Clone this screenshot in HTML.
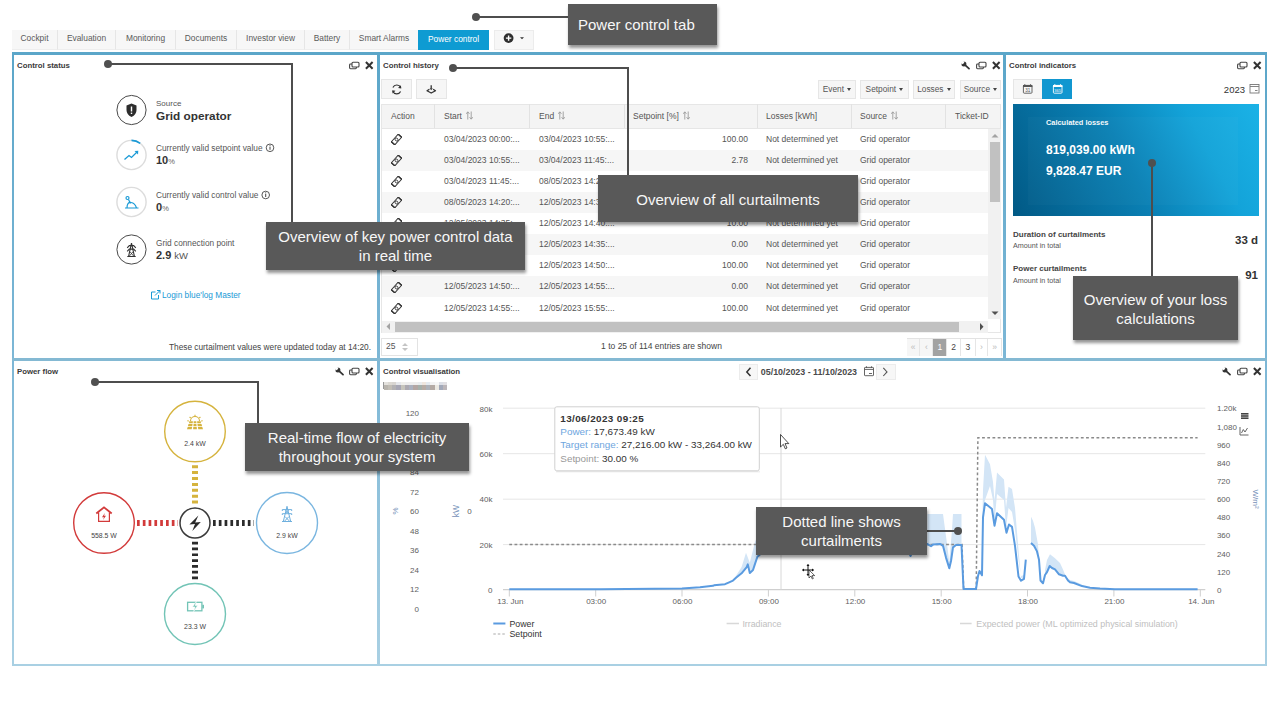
<!DOCTYPE html>
<html><head><meta charset="utf-8">
<style>
*{box-sizing:border-box;margin:0;padding:0}
html,body{width:1280px;height:720px;overflow:hidden;background:#fff}
body{position:relative;font-family:"Liberation Sans",sans-serif;color:#444;font-size:8.4px}
.a{position:absolute}
.tab{position:absolute;top:30px;height:20px;background:#f7f7f7;border-right:1px solid #e6e6e6;border-bottom:1.5px solid #eeeeee;color:#5a5a5a;font-size:8.4px;line-height:17px;text-align:center}
.vb{position:absolute;background:#79b4d2}
.ttl{position:absolute;font-weight:bold;font-size:7.8px;color:#3a3a3a;line-height:10px;margin-top:1px}
.ann{position:absolute;background:#595959;color:#f7f7f7;font-size:15px;line-height:19px;text-align:center;box-shadow:1px 3px 3px rgba(0,0,0,.42)}
.ln{position:absolute;background:#4d4d4d}
.dot{position:absolute;width:8px;height:8px;border-radius:50%;background:#505050}
.btn{background:#f6f6f6;border:1px solid #e6e6e6}
.dd{color:#555;font-size:8.3px;line-height:17px;text-align:center}
.car{display:inline-block;width:0;height:0;border-left:2.5px solid transparent;border-right:2.5px solid transparent;border-top:3px solid #444;vertical-align:middle;margin-left:1px;margin-top:-1px}
.th{font-size:8.5px;color:#555;line-height:10px;white-space:nowrap}
.srt{margin-left:4px;vertical-align:-1px}
.td{font-size:8.5px;color:#555;line-height:10px;white-space:nowrap}
</style></head><body>


<svg width="0" height="0" style="position:absolute">
 <defs>
  <g id="ix"><path d="M0.9 1 L7.6 7.7 M7.6 1 L0.9 7.7" stroke="#333" stroke-width="2" fill="none"/></g>
  <g id="ir"><rect x="3" y="0.7" width="7" height="4.8" rx="1" fill="#fff" stroke="#444" stroke-width="1.1"/><path d="M3 2.5 L1.5 2.5 Q0.6 2.5 0.6 3.4 L0.6 6.3 Q0.6 7.2 1.5 7.2 L6.5 7.2 Q7.4 7.2 7.4 6.3 L7.4 5.5" fill="none" stroke="#444" stroke-width="1.1"/></g>
  <g id="iw"><path d="M3.4 3.4 L8 7.6" stroke="#333" stroke-width="1.8" stroke-linecap="round" fill="none"/><circle cx="2.9" cy="2.9" r="2.5" fill="#333"/><path d="M-0.3 -0.3 L3.6 0.6 L2.6 2.6 L0.6 3.6 Z" fill="#fff"/></g>
  <g id="iact"><g transform="rotate(-48 5.5 5.5)"><rect x="0.3" y="3.2" width="10.4" height="4.6" fill="none" stroke="#333" stroke-width="1"/><rect x="-0.2" y="2.8" width="1.3" height="5.4" fill="#333"/><rect x="9.9" y="2.8" width="1.3" height="5.4" fill="#333"/><circle cx="5.5" cy="5.5" r="1.4" fill="none" stroke="#333" stroke-width="0.9"/></g></g>
 </defs>
</svg>

<!-- tabs -->
<div class="tab" style="left:12px;width:46px">Cockpit</div>
<div class="tab" style="left:58px;width:58px">Evaluation</div>
<div class="tab" style="left:116px;width:60px">Monitoring</div>
<div class="tab" style="left:176px;width:61px">Documents</div>
<div class="tab" style="left:237px;width:68px">Investor view</div>
<div class="tab" style="left:305px;width:45px">Battery</div>
<div class="tab" style="left:350px;width:68px;border-right:none">Smart Alarms</div>
<div class="tab" style="left:418px;width:71px;height:19.5px;background:#0e9bd2;color:#fff;border:none;line-height:18px">Power control</div>
<div class="tab" style="left:494px;width:40px;height:19.5px;border:1px solid #ececec"></div>
<svg class="a" style="left:500px;top:30px" width="30" height="18"><circle cx="8.6" cy="8.1" r="4.9" fill="#2e2e2e"/><path d="M8.6 5.4V10.8M5.9 8.1H11.3" stroke="#fff" stroke-width="1.4"/><path d="M20 7.2H24L22 9.3Z" fill="#333"/></svg>

<!-- frame -->
<div class="vb" style="left:12px;top:52px;width:1255px;height:3px;background:#5ba6c9"></div>
<div class="vb" style="left:12px;top:52px;width:2px;height:614px;background:linear-gradient(#5ba6c9,#7db7d6 50%,#a9d0e3)"></div>
<div class="vb" style="left:1265px;top:52px;width:2px;height:614px;background:linear-gradient(#5ba6c9,#7db7d6 50%,#a9d0e3)"></div>
<div class="vb" style="left:12px;top:663.5px;width:1255px;height:2.5px;background:#a9d0e3"></div>
<div class="vb" style="left:377px;top:52px;width:3px;height:614px;background:linear-gradient(#5ba6c9,#7db7d6 50%,#a9d0e3)"></div>
<div class="vb" style="left:1003px;top:52px;width:3px;height:308px;background:linear-gradient(#5ba6c9,#7db7d6)"></div>
<div class="vb" style="left:12px;top:358px;width:1255px;height:3px;background:#84b9d3"></div>
<!-- titles -->
<div class="ttl" style="left:17px;top:60px">Control status</div>
<div class="ttl" style="left:383px;top:60px">Control history</div>
<div class="ttl" style="left:1009px;top:60px">Control indicators</div>
<div class="ttl" style="left:17px;top:366px">Power flow</div>
<div class="ttl" style="left:383px;top:366px">Control visualisation</div>


<!-- control status content -->
<svg class="a" style="left:0;top:0" width="380" height="360">
 <g fill="none" stroke-width="1.1">
  <circle cx="131.5" cy="110" r="14.6" stroke="#4a4a4a" stroke-width="1"/>
  <circle cx="131.5" cy="155" r="14.6" stroke="#dcdcdc" stroke-width="1.4"/>
  <path d="M131.5 140.4 A14.6 14.6 0 0 1 140.2 143.3" stroke="#1a9ad6" stroke-width="1.6"/>
  <circle cx="131.5" cy="202" r="14.6" stroke="#dcdcdc" stroke-width="1.4"/>
  <circle cx="131.5" cy="249.5" r="14.6" stroke="#4a4a4a" stroke-width="1"/>
 </g>
 <!-- shield -->
 <path d="M131.5 103.5 L136.5 105.5 L136.5 110 Q136.5 114.5 131.5 117 Q126.5 114.5 126.5 110 L126.5 105.5 Z" fill="#2d2d2d"/>
 <rect x="130.8" y="106.5" width="1.4" height="5" fill="#fff"/>
 <rect x="130.8" y="112.6" width="1.4" height="1.4" fill="#fff"/>
 <!-- trend -->
 <path d="M124.5 159.5 L129 155.5 L131.5 157.5 L137.5 151.5" fill="none" stroke="#1a9ad6" stroke-width="1.3"/>
 <path d="M134.5 151 L138.3 150.7 L138 154.5 Z" fill="#1a9ad6"/>
 <!-- control lever -->
 <g fill="none" stroke="#1a9ad6" stroke-width="1.2">
  <circle cx="127.5" cy="198" r="1.5"/>
  <path d="M128.5 199.5 L130.5 203.5 M125 208 L138.5 208 M127 208 Q127 202 131 202.5 Q135 203 136.5 208"/>
 </g>
 <!-- tower -->
 <g fill="none" stroke="#333" stroke-width="1.1">
  <path d="M131.5 243.2 L128.6 256.3 M131.5 243.2 L134.4 256.3 M127.3 256.5 H135.7"/>
  <path d="M127.2 247.8 L129.3 245.6 H133.7 L135.8 247.8 M127.2 251.3 L129.3 249.1 H133.7 L135.8 251.3"/>
  <path d="M130 251.8 L133.6 256 M133 251.8 L129.4 256" stroke-width="0.8"/>
 </g>
 <!-- info icons -->
 <g fill="none" stroke="#444" stroke-width="0.9"><circle cx="270" cy="147.8" r="3.8"/><circle cx="265.7" cy="195" r="3.8"/></g>
 <g fill="#444"><rect x="269.5" y="146.8" width="1" height="3"/><rect x="269.5" y="145.2" width="1" height="1"/><rect x="265.2" y="194" width="1" height="3"/><rect x="265.2" y="192.4" width="1" height="1"/></g>
 <!-- external link icon -->
 <g fill="none" stroke="#1a9ad6" stroke-width="1"><path d="M155.5 292 L151.5 292 L151.5 299 L158.5 299 L158.5 295"/><path d="M155 295.5 L160 290.5 M157 290.5 L160 290.5 L160 293.5"/></g>
</svg>
<div class="a" style="left:156px;top:99px;font-size:8px;color:#555;line-height:10px">Source</div>
<div class="a" style="left:156px;top:108.5px;font-size:11.8px;font-weight:bold;color:#333;line-height:14px">Grid operator</div>
<div class="a" style="left:156px;top:142.8px;font-size:8.3px;color:#555;line-height:10px">Currently valid setpoint value</div>
<div class="a" style="left:156px;top:154px;font-size:11px;font-weight:bold;color:#333;line-height:13px">10<span style="font-size:7.5px;font-weight:normal;color:#666">%</span></div>
<div class="a" style="left:156px;top:190.3px;font-size:8.3px;color:#555;line-height:10px">Currently valid control value</div>
<div class="a" style="left:156px;top:201.3px;font-size:11px;font-weight:bold;color:#333;line-height:13px">0<span style="font-size:7.5px;font-weight:normal;color:#666">%</span></div>
<div class="a" style="left:156px;top:237.5px;font-size:8.3px;color:#555;line-height:10px">Grid connection point</div>
<div class="a" style="left:156px;top:248.8px;font-size:11px;font-weight:bold;color:#333;line-height:13px">2.9 <span style="font-size:9.5px;font-weight:normal;color:#555">kW</span></div>
<div class="a" style="left:162px;top:289.5px;font-size:8.3px;color:#1a9ad6;line-height:10px">Login blue'log Master</div>
<div class="a" style="left:140px;top:342px;width:231px;text-align:right;font-size:8.3px;color:#444;line-height:10px">These curtailment values were updated today at 14:20.</div>


<!-- control history -->
<div class="a btn" style="left:381px;top:79px;width:31px;height:20px"></div>
<div class="a btn" style="left:416px;top:79px;width:31px;height:20px"></div>
<svg class="a" style="left:385px;top:80px" width="60" height="19">
 <g fill="none" stroke="#333" stroke-width="1.2"><path d="M15.7 7.6 A4.3 4.3 0 0 0 7.9 7.4"/><path d="M7.8 11.2 A4.3 4.3 0 0 0 15.6 11.4"/></g>
 <path d="M15.9 5.2 L16.3 8.6 L13 8 Z M7.6 13.6 L7.2 10.2 L10.5 10.8 Z" fill="#333"/>
 <path d="M44.4 9.2 L42 10.7 L46.2 13 L50.5 10.7 L48.1 9.2" fill="none" stroke="#333" stroke-width="1.3" stroke-linejoin="round"/>
 <path d="M46.2 5.2 V8.6" stroke="#333" stroke-width="1.3"/><path d="M44.6 8.2 L46.2 10.3 L47.8 8.2 Z" fill="#333"/>
</svg>
<div class="a btn dd" style="left:818px;top:80px;width:38px;height:19px">Event <span class="car"></span></div>
<div class="a btn dd" style="left:860px;top:80px;width:49px;height:19px">Setpoint <span class="car"></span></div>
<div class="a btn dd" style="left:913px;top:80px;width:42px;height:19px">Losses <span class="car"></span></div>
<div class="a btn dd" style="left:960px;top:80px;width:41px;height:19px">Source <span class="car"></span></div>
<div class="a" style="left:381px;top:104px;width:620px;height:229px;border:1px solid #e6e6e6;background:#fff"></div>
<div class="a" style="left:381px;top:104px;width:620px;height:24.5px;background:#f4f4f4;border:1px solid #e6e6e6"></div>
<div class="a" style="left:434px;top:104px;width:1px;height:24px;background:#e2e2e2"></div>
<div class="a" style="left:529px;top:104px;width:1px;height:24px;background:#e2e2e2"></div>
<div class="a" style="left:624px;top:104px;width:1px;height:24px;background:#e2e2e2"></div>
<div class="a" style="left:757px;top:104px;width:1px;height:24px;background:#e2e2e2"></div>
<div class="a" style="left:851px;top:104px;width:1px;height:24px;background:#e2e2e2"></div>
<div class="a" style="left:945px;top:104px;width:1px;height:24px;background:#e2e2e2"></div>
<div class="a th" style="left:391px;top:111px">Action</div>
<div class="a th" style="left:444px;top:111px">Start<svg class="srt" width="7" height="9" viewBox="0 0 7 9"><path d="M1.8 8.5V1 M0.2 2.8 L1.8 0.8 L3.4 2.8 M5.2 0.5V8 M3.6 6.2 L5.2 8.2 L6.8 6.2" fill="none" stroke="#9a9a9a" stroke-width="0.9"/></svg></div>
<div class="a th" style="left:539px;top:111px">End<svg class="srt" width="7" height="9" viewBox="0 0 7 9"><path d="M1.8 8.5V1 M0.2 2.8 L1.8 0.8 L3.4 2.8 M5.2 0.5V8 M3.6 6.2 L5.2 8.2 L6.8 6.2" fill="none" stroke="#9a9a9a" stroke-width="0.9"/></svg></div>
<div class="a th" style="left:633px;top:111px">Setpoint [%]<svg class="srt" width="7" height="9" viewBox="0 0 7 9"><path d="M1.8 8.5V1 M0.2 2.8 L1.8 0.8 L3.4 2.8 M5.2 0.5V8 M3.6 6.2 L5.2 8.2 L6.8 6.2" fill="none" stroke="#9a9a9a" stroke-width="0.9"/></svg></div>
<div class="a th" style="left:766px;top:111px">Losses [kWh]</div>
<div class="a th" style="left:860px;top:111px">Source<svg class="srt" width="7" height="9" viewBox="0 0 7 9"><path d="M1.8 8.5V1 M0.2 2.8 L1.8 0.8 L3.4 2.8 M5.2 0.5V8 M3.6 6.2 L5.2 8.2 L6.8 6.2" fill="none" stroke="#9a9a9a" stroke-width="0.9"/></svg></div>
<div class="a th" style="left:955px;top:111px">Ticket-ID</div>
<div class="a" style="left:382px;top:128.5px;width:606px;height:21.1px;background:#fff"></div>
<svg class="a" style="left:391px;top:134.0px" width="11" height="11"><use href="#iact"/></svg>
<div class="a td" style="left:444px;top:133.7px">03/04/2023 00:00:...</div>
<div class="a td" style="left:539px;top:133.7px">03/04/2023 10:55:...</div>
<div class="a td" style="left:640px;top:133.7px;width:108px;text-align:right">100.00</div>
<div class="a td" style="left:766px;top:133.7px">Not determined yet</div>
<div class="a td" style="left:860px;top:133.7px">Grid operator</div>
<div class="a" style="left:382px;top:149.6px;width:606px;height:21.1px;background:#f6f6f6"></div>
<svg class="a" style="left:391px;top:155.1px" width="11" height="11"><use href="#iact"/></svg>
<div class="a td" style="left:444px;top:154.8px">03/04/2023 10:55:...</div>
<div class="a td" style="left:539px;top:154.8px">03/04/2023 11:45:...</div>
<div class="a td" style="left:640px;top:154.8px;width:108px;text-align:right">2.78</div>
<div class="a td" style="left:766px;top:154.8px">Not determined yet</div>
<div class="a td" style="left:860px;top:154.8px">Grid operator</div>
<div class="a" style="left:382px;top:170.7px;width:606px;height:21.1px;background:#fff"></div>
<svg class="a" style="left:391px;top:176.2px" width="11" height="11"><use href="#iact"/></svg>
<div class="a td" style="left:444px;top:175.9px">03/04/2023 11:45:...</div>
<div class="a td" style="left:539px;top:175.9px">08/05/2023 14:20:...</div>
<div class="a td" style="left:640px;top:175.9px;width:108px;text-align:right">0.00</div>
<div class="a td" style="left:766px;top:175.9px">Not determined yet</div>
<div class="a td" style="left:860px;top:175.9px">Grid operator</div>
<div class="a" style="left:382px;top:191.8px;width:606px;height:21.1px;background:#f6f6f6"></div>
<svg class="a" style="left:391px;top:197.3px" width="11" height="11"><use href="#iact"/></svg>
<div class="a td" style="left:444px;top:197.0px">08/05/2023 14:20:...</div>
<div class="a td" style="left:539px;top:197.0px">12/05/2023 14:35:...</div>
<div class="a td" style="left:640px;top:197.0px;width:108px;text-align:right">10.00</div>
<div class="a td" style="left:766px;top:197.0px">Not determined yet</div>
<div class="a td" style="left:860px;top:197.0px">Grid operator</div>
<div class="a" style="left:382px;top:212.9px;width:606px;height:21.1px;background:#fff"></div>
<svg class="a" style="left:391px;top:218.4px" width="11" height="11"><use href="#iact"/></svg>
<div class="a td" style="left:444px;top:218.1px">12/05/2023 14:35:...</div>
<div class="a td" style="left:539px;top:218.1px">12/05/2023 14:40:...</div>
<div class="a td" style="left:640px;top:218.1px;width:108px;text-align:right">10.00</div>
<div class="a td" style="left:766px;top:218.1px">Not determined yet</div>
<div class="a td" style="left:860px;top:218.1px">Grid operator</div>
<div class="a" style="left:382px;top:234.0px;width:606px;height:21.1px;background:#f6f6f6"></div>
<svg class="a" style="left:391px;top:239.5px" width="11" height="11"><use href="#iact"/></svg>
<div class="a td" style="left:444px;top:239.2px">12/05/2023 14:40:...</div>
<div class="a td" style="left:539px;top:239.2px">12/05/2023 14:35:...</div>
<div class="a td" style="left:640px;top:239.2px;width:108px;text-align:right">0.00</div>
<div class="a td" style="left:766px;top:239.2px">Not determined yet</div>
<div class="a td" style="left:860px;top:239.2px">Grid operator</div>
<div class="a" style="left:382px;top:255.1px;width:606px;height:21.1px;background:#fff"></div>
<svg class="a" style="left:391px;top:260.6px" width="11" height="11"><use href="#iact"/></svg>
<div class="a td" style="left:444px;top:260.3px">12/05/2023 14:35:...</div>
<div class="a td" style="left:539px;top:260.3px">12/05/2023 14:50:...</div>
<div class="a td" style="left:640px;top:260.3px;width:108px;text-align:right">100.00</div>
<div class="a td" style="left:766px;top:260.3px">Not determined yet</div>
<div class="a td" style="left:860px;top:260.3px">Grid operator</div>
<div class="a" style="left:382px;top:276.2px;width:606px;height:21.1px;background:#f6f6f6"></div>
<svg class="a" style="left:391px;top:281.7px" width="11" height="11"><use href="#iact"/></svg>
<div class="a td" style="left:444px;top:281.4px">12/05/2023 14:50:...</div>
<div class="a td" style="left:539px;top:281.4px">12/05/2023 14:55:...</div>
<div class="a td" style="left:640px;top:281.4px;width:108px;text-align:right">0.00</div>
<div class="a td" style="left:766px;top:281.4px">Not determined yet</div>
<div class="a td" style="left:860px;top:281.4px">Grid operator</div>
<div class="a" style="left:382px;top:297.3px;width:606px;height:21.1px;background:#fff"></div>
<svg class="a" style="left:391px;top:302.8px" width="11" height="11"><use href="#iact"/></svg>
<div class="a td" style="left:444px;top:302.5px">12/05/2023 14:55:...</div>
<div class="a td" style="left:539px;top:302.5px">12/05/2023 15:55:...</div>
<div class="a td" style="left:640px;top:302.5px;width:108px;text-align:right">100.00</div>
<div class="a td" style="left:766px;top:302.5px">Not determined yet</div>
<div class="a td" style="left:860px;top:302.5px">Grid operator</div>
<div class="a" style="left:988px;top:128.5px;width:13px;height:190px;background:#f1f1f1"></div>
<div class="a" style="left:990px;top:142px;width:10px;height:60px;background:#c1c1c1"></div>
<div class="a" style="left:382px;top:320.5px;width:606px;height:12.5px;background:#f1f1f1"></div>
<div class="a" style="left:395px;top:322px;width:564px;height:9.5px;background:#c1c1c1"></div>
<svg class="a" style="left:380px;top:126px" width="625" height="210">
 <path d="M611.5 11.5 L615 8 L618.5 11.5 Z" fill="#a3a3a3"/>
 <path d="M611.5 185.5 L615 189 L618.5 185.5 Z" fill="#505050"/>
 <path d="M10 204 L6.5 200.5 L10 197 Z" fill="#a3a3a3"/>
 <path d="M600 197 L603.5 200.7 L600 204.4 Z" fill="#505050"/>
</svg>
<div class="a" style="left:381px;top:338px;width:37px;height:18px;border:1px solid #e3e3e3;background:#fff"></div>
<div class="a td" style="left:386px;top:341.2px;color:#555">25</div>
<svg class="a" style="left:401px;top:341px" width="8" height="12"><path d="M1 5 L4 2 L7 5 Z M1 7 L4 10 L7 7 Z" fill="#c4c4c4"/></svg>
<div class="a td" style="left:561.5px;top:341.2px;width:200px;text-align:center;color:#444">1 to 25 of 114 entries are shown</div>
<div class="a" style="left:907px;top:338px;width:95px;height:18px;border:1px solid #e3e3e3"></div>
<div class="a" style="left:907.0px;top:338.5px;width:13.3px;height:17px;background:#f6f6f6;color:#bbb;border-right:1px solid #e6e6e6;text-align:center;font-size:8.5px;line-height:17px">&laquo;</div>
<div class="a" style="left:920.3px;top:338.5px;width:13.0px;height:17px;background:#f6f6f6;color:#bbb;border-right:1px solid #e6e6e6;text-align:center;font-size:8.5px;line-height:17px">&lsaquo;</div>
<div class="a" style="left:933.3px;top:338.5px;width:13.9px;height:17px;background:#a2a2a2;color:#fff;border-right:1px solid #e6e6e6;text-align:center;font-size:8.5px;line-height:17px">1</div>
<div class="a" style="left:947.2px;top:338.5px;width:13.9px;height:17px;background:#fff;color:#444;border-right:1px solid #e6e6e6;text-align:center;font-size:8.5px;line-height:17px">2</div>
<div class="a" style="left:961.1px;top:338.5px;width:14.5px;height:17px;background:#fff;color:#444;border-right:1px solid #e6e6e6;text-align:center;font-size:8.5px;line-height:17px">3</div>
<div class="a" style="left:975.6px;top:338.5px;width:12.7px;height:17px;background:#fff;color:#bbb;border-right:1px solid #e6e6e6;text-align:center;font-size:8.5px;line-height:17px">&rsaquo;</div>
<div class="a" style="left:988.3px;top:338.5px;width:13.4px;height:17px;background:#fff;color:#bbb;border-right:1px solid #e6e6e6;text-align:center;font-size:8.5px;line-height:17px">&raquo;</div>
<!-- control indicators -->
<div class="a btn" style="left:1013px;top:79px;width:30px;height:20px"></div>
<div class="a" style="left:1042px;top:79px;width:30px;height:20px;background:#1197d0"></div>
<svg class="a" style="left:1020px;top:82px" width="50" height="14">
 <rect x="3.4" y="3.4" width="8.6" height="7.8" rx="0.8" fill="none" stroke="#555" stroke-width="0.9"/><rect x="3" y="3" width="9.4" height="2" fill="#555"/><path d="M4.8 2.2V3.4M10.6 2.2V3.4" stroke="#555" stroke-width="1"/>
 <text x="7.7" y="10.1" font-size="4.6" fill="#555" text-anchor="middle" font-family="Liberation Sans">31</text>
 <rect x="33.4" y="3.4" width="8.6" height="7.8" rx="0.8" fill="none" stroke="#fff" stroke-width="0.9"/><rect x="33" y="3" width="9.4" height="2" fill="#fff"/><path d="M34.8 2.2V3.4M40.6 2.2V3.4" stroke="#fff" stroke-width="1"/>
 <text x="37.7" y="9.9" font-size="4" fill="#fff" text-anchor="middle" font-family="Liberation Sans">365</text>
</svg>
<div class="a" style="left:1197px;top:83.5px;width:48px;text-align:right;font-size:9.5px;color:#333;line-height:11px">2023</div>
<svg class="a" style="left:1249px;top:83px" width="11" height="11"><g fill="none" stroke="#777" stroke-width="0.9"><rect x="1" y="1.5" width="9" height="8.5"/><path d="M1 3.5 H10 M6 7.5 H8.5"/></g></svg>
<div class="a" style="left:1013px;top:103.5px;width:246px;height:112px;background:linear-gradient(62deg,#015985 0%,#0a7fb3 45%,#13a3d9 75%,#1bb2e6 100%)"></div>
<div class="a" style="left:1028px;top:117px;width:210px;height:88px;background:rgba(255,255,255,0.025)"></div>
<div class="a" style="left:1046px;top:118px;font-size:7.4px;font-weight:bold;color:#f4f8fb;line-height:10px">Calculated losses</div>
<div class="a" style="left:1046px;top:143px;font-size:12px;font-weight:bold;color:#fff;line-height:14px">819,039.00 kWh</div>
<div class="a" style="left:1046px;top:163.5px;font-size:12px;font-weight:bold;color:#fff;line-height:14px">9,828.47 EUR</div>
<div class="a" style="left:1013px;top:230px;font-size:8px;font-weight:bold;color:#444;line-height:10px">Duration of curtailments</div>
<div class="a" style="left:1013px;top:241px;font-size:7.2px;color:#555;line-height:9px">Amount in total</div>
<div class="a" style="left:1150px;top:234px;width:108px;text-align:right;font-size:11.5px;font-weight:bold;color:#333;line-height:13px">33 d</div>
<div class="a" style="left:1013px;top:264px;font-size:8px;font-weight:bold;color:#444;line-height:10px">Power curtailments</div>
<div class="a" style="left:1013px;top:275.5px;font-size:7.2px;color:#555;line-height:9px">Amount in total</div>
<div class="a" style="left:1150px;top:268.5px;width:108px;text-align:right;font-size:11.5px;font-weight:bold;color:#333;line-height:13px">91</div>

<!-- power flow -->
<svg class="a" style="left:0;top:360px" width="377" height="304" font-family="Liberation Sans">
 <g transform="translate(0,-360)">
 <g fill="none" stroke-width="1.4">
  <circle cx="195" cy="431.5" r="30.3" stroke="#d5b33d"/>
  <circle cx="104" cy="523" r="30.3" stroke="#d23a3a"/>
  <circle cx="287" cy="523" r="30.5" stroke="#7ab6e0"/>
  <circle cx="195" cy="614" r="30.5" stroke="#72c4b6"/>
  <circle cx="195" cy="523" r="15" stroke="#3a3a3a" stroke-width="1.5"/>
 </g>
 <g fill="none" stroke-width="6">
  <path d="M195 465.2 V505.5" stroke="#d5b33d" stroke-dasharray="3 2.9"/>
  <path d="M137 523 H178" stroke="#d23a3a" stroke-dasharray="2.7 3.1"/>
  <path d="M213 523 H254" stroke="#2b2b2b" stroke-dasharray="2.7 3.1"/>
  <path d="M195 541.8 V582" stroke="#2b2b2b" stroke-dasharray="2.7 3.1"/>
 </g>
 <path d="M198.4 515.5 L189.4 524.6 L195 524 L192.3 531 L200.8 522 L195.2 522.6 Z" fill="#2b2b2b"/>
 <!-- solar -->
 <g fill="#d5b33d">
  <path d="M188.5 424 L192.6 424 L192.2 426.2 L187.9 426.2 Z M193.6 424 L196.4 424 L196.6 426.2 L193.4 426.2 Z M197.4 424 L201.5 424 L202.1 426.2 L197.8 426.2 Z"/>
  <path d="M187.7 426.9 L192.1 426.9 L191.7 429.2 L187 429.2 Z M193.3 426.9 L196.7 426.9 L196.9 429.2 L193.1 429.2 Z M197.9 426.9 L202.3 426.9 L203 429.2 L198.3 429.2 Z"/>
  <path d="M189.3 421.2 L192.9 421.2 L192.7 423.2 L189 423.2 Z M193.7 421.2 L196.3 421.2 L196.4 423.2 L193.6 423.2 Z M197.1 421.2 L200.7 421.2 L201 423.2 L197.3 423.2 Z"/>
 </g>
 <g fill="none" stroke="#d5b33d" stroke-width="1.1">
  <path d="M190.5 421 A4.5 4.5 0 0 1 199.5 421"/>
  <path d="M195 414.8 V416.5 M189.6 417 L190.8 418.1 M200.4 417 L199.2 418.1 M187.3 420.8 L188.9 421 M202.7 420.8 L201.1 421"/>
 </g>
 <!-- house -->
 <g fill="none" stroke="#d23a3a">
  <path d="M96.3 513.5 L104 507.3 L111.7 513.5" stroke-width="1.8"/>
  <path d="M98.6 512.5 V521.3 H109.4 V512.5" stroke-width="1.2"/>
 </g>
 <path d="M104.8 513 L102 517.3 L104 517.3 L103 520 L106 515.8 L104.1 515.8 Z" fill="#d23a3a"/>
 <!-- tower -->
 <g fill="none" stroke="#6fb0de" stroke-width="1">
  <path d="M287 506.3 L283.3 521.5 M287 506.3 L290.7 521.5 M282 521.5 H292 M282.3 509.6 H291.7 M282.3 513.7 H291.7 M282.3 509.6 V511 M291.7 509.6 V511 M282.3 513.7 V515 M291.7 513.7 V515 M285 516.5 L289.6 521.3 M289 516.5 L284.4 521.3 M285.4 510 L288.6 513.5 M288.6 510 L285.4 513.5"/>
 </g>
 <!-- battery -->
 <g fill="none" stroke="#72c4b6" stroke-width="1.3"><rect x="187.6" y="602.3" width="14.3" height="8.5"/></g>
 <rect x="202.3" y="604.8" width="1.7" height="3.6" fill="#72c4b6"/>
 <path d="M196.7 600.5 L192.5 607 L195 607 L193.6 611.6 L197.6 605.6 L195.2 605.6 Z" fill="#72c4b6" stroke="#fff" stroke-width="0.6"/>
 <g font-size="6.9" fill="#444" text-anchor="middle">
  <text x="195" y="446">2.4 kW</text>
  <text x="104" y="538">558.5 W</text>
  <text x="287" y="538">2.9 kW</text>
  <text x="195" y="629.2">23.3 W</text>
 </g>
 </g>
</svg>

<!-- chart -->
<svg class="a" style="left:0;top:0" width="1280" height="720" font-family="Liberation Sans">
<path d="M503 408.2H1205.3" stroke="#e6e6e6" stroke-width="1"/>
<path d="M503 453.7H1205.3" stroke="#e6e6e6" stroke-width="1"/>
<path d="M503 499.2H1205.3" stroke="#e6e6e6" stroke-width="1"/>
<path d="M503 544.6H1205.3" stroke="#e6e6e6" stroke-width="1"/>
<path d="M503 589.6H1205.3" stroke="#cfcfcf" stroke-width="1.1"/>
<path d="M509.3 590V596.5" stroke="#cfcfcf" stroke-width="1"/>
<path d="M595.7 590V596.5" stroke="#cfcfcf" stroke-width="1"/>
<path d="M682.0 590V596.5" stroke="#cfcfcf" stroke-width="1"/>
<path d="M768.4 590V596.5" stroke="#cfcfcf" stroke-width="1"/>
<path d="M854.8 590V596.5" stroke="#cfcfcf" stroke-width="1"/>
<path d="M941.2 590V596.5" stroke="#cfcfcf" stroke-width="1"/>
<path d="M1027.5 590V596.5" stroke="#cfcfcf" stroke-width="1"/>
<path d="M1113.9 590V596.5" stroke="#cfcfcf" stroke-width="1"/>
<path d="M1200.3 590V596.5" stroke="#cfcfcf" stroke-width="1"/>
<g font-size="8" fill="#606060" text-anchor="middle">
<text x="510.3" y="603.8">13. Jun</text>
<text x="596.2" y="603.8">03:00</text>
<text x="682.5" y="603.8">06:00</text>
<text x="768.9" y="603.8">09:00</text>
<text x="855.3" y="603.8">12:00</text>
<text x="941.7" y="603.8">15:00</text>
<text x="1028.0" y="603.8">18:00</text>
<text x="1114.4" y="603.8">21:00</text>
<text x="1201.3" y="603.8">14. Jun</text>
</g>
<g font-size="8" fill="#606060" text-anchor="end">
<text x="492.4" y="411.6">80k</text>
<text x="492.4" y="456.9">60k</text>
<text x="492.4" y="502.3">40k</text>
<text x="492.4" y="547.6">20k</text>
<text x="492.4" y="592.9">0</text>
<text x="419" y="416.2">120</text>
<text x="419" y="435.8">108</text>
<text x="419" y="455.3">96</text>
<text x="419" y="474.9">84</text>
<text x="419" y="494.5">72</text>
<text x="419" y="514.0">60</text>
<text x="419" y="533.6">48</text>
<text x="419" y="553.2">36</text>
<text x="419" y="572.8">24</text>
<text x="419" y="592.3">12</text>
<text x="419" y="611.9">0</text>
</g>
<text x="469.5" y="513.9" font-size="8" fill="#606060" text-anchor="middle">0</text>
<text transform="translate(458.7 511) rotate(-90)" font-size="8.5" fill="#7590b8" text-anchor="middle">kW</text>
<text transform="translate(397.5 511) rotate(-90)" font-size="8" fill="#7590b8" text-anchor="middle">%</text>
<g font-size="8" fill="#606060">
<text x="1216.9" y="411.4">1.20k</text>
<text x="1216.9" y="429.5">1,080</text>
<text x="1216.9" y="447.7">960</text>
<text x="1216.9" y="465.8">840</text>
<text x="1216.9" y="484.0">720</text>
<text x="1216.9" y="502.1">600</text>
<text x="1216.9" y="520.3">480</text>
<text x="1216.9" y="538.4">360</text>
<text x="1216.9" y="556.6">240</text>
<text x="1216.9" y="574.8">120</text>
<text x="1216.9" y="592.9">0</text>
</g>
<text transform="translate(1252.8 499) rotate(90)" font-size="8" fill="#7590b8" text-anchor="middle">W/m²</text>
<g fill="#444"><rect x="1241" y="413" width="7.5" height="1.6"/><rect x="1241" y="415.2" width="7.5" height="1.6"/><rect x="1241" y="417.4" width="7.5" height="1.6"/></g>
<path d="M1240 427 V435 H1248.5 M1241.5 433 L1243.3 429.5 L1245 432 L1247.5 428" fill="none" stroke="#555" stroke-width="0.9"/>
<path d="M781 408V589.6" stroke="#d8d8d8" stroke-width="1"/>
<polygon points="733.0,580.6 741.6,567.0 746.0,552.8 749.8,562.8 755.0,542.0 760.0,530.0 760.0,554.4 757.4,556.7 755.0,563.9 753.0,570.0 749.8,573.1 747.8,564.4 746.7,567.2 741.6,573.3 736.0,577.8 733.0,580.6" fill="#d3e5f6"/>
<polygon points="927.5,514.0 943.0,514.0 946.5,540.0 949.3,562.0 952.0,530.0 953.0,514.0 961.5,514.0 961.5,545.0 956.0,545.0 953.0,547.4 951.0,561.0 949.3,568.2 946.0,557.6 943.0,545.8 940.0,543.9 933.0,544.6 931.0,546.2 927.5,544.1" fill="#d3e5f6"/>
<polygon points="982.0,540.0 983.0,490.0 985.0,454.8 990.0,464.3 993.0,482.0 994.5,500.9 997.0,472.5 1004.0,479.6 1006.0,508.0 1008.5,486.7 1012.0,489.0 1015.0,508.0 1018.5,550.0 1021.0,578.0 1024.0,578.8 1025.5,560.0 1024.0,575.0 1021.0,576.0 1018.5,560.0 1015.0,530.0 1012.0,512.0 1008.5,508.0 1006.0,528.0 1004.0,500.0 997.0,494.0 994.5,522.0 993.0,500.0 990.0,486.0 985.0,500.0 983.0,517.4 982.0,540.0" fill="#d3e5f6"/>
<polygon points="1031.0,516.7 1033.0,520.8 1035.0,527.8 1038.0,544.4 1040.5,580.5 1039.0,559.7 1037.0,551.4 1034.0,545.8 1031.0,543.0" fill="#d3e5f6"/>
<polygon points="1045.0,570.0 1047.0,560.0 1050.0,554.2 1055.0,558.3 1060.0,563.0 1063.0,569.4 1066.0,577.0 1070.0,580.0 1074.0,581.0 1082.0,584.5 1082.0,586.1 1074.0,583.0 1070.0,582.2 1068.0,580.5 1065.0,575.7 1063.0,575.7 1059.0,574.3 1055.0,569.4 1052.0,568.0 1049.7,566.0 1047.0,572.2 1045.0,575.0" fill="#d3e5f6"/>
<path d="M509.3 544.6 H962 L963.7 589.3 H976.2 L977.9 437.8 H1197.6" fill="none" stroke="#8a8a8a" stroke-width="1.5" stroke-dasharray="2.8 2.4"/>
<polyline points="509.3,589.3 600.0,589.3 682.0,588.6 700.0,587.2 713.0,585.8 714.0,585.3 725.0,584.2 728.0,582.8 733.0,580.6 736.0,577.8 741.6,573.3 746.7,567.2 747.8,564.4 749.8,573.1 753.0,570.0 755.0,563.9 757.4,556.7 760.0,554.4 770.0,548.0 790.0,545.0 850.0,545.0 905.0,545.0 910.6,556.0 915.0,545.0 927.5,544.1 931.0,546.2 933.0,544.6 940.0,543.9 943.0,545.8 946.0,557.6 949.3,568.2 951.0,561.0 953.0,547.4 956.0,545.0 961.5,545.0 963.5,589.0 976.0,589.0 978.0,576.0 979.5,571.0 982.0,575.3 983.0,517.4 985.0,503.2 992.0,509.1 994.5,525.7 997.0,513.2 1004.0,519.8 1006.5,532.8 1009.0,524.5 1012.0,526.9 1015.0,545.8 1018.5,576.5 1021.0,580.7 1024.0,578.8 1025.8,559.7" fill="none" stroke="#5a9be0" stroke-width="2" stroke-linejoin="round"/>
<polyline points="1031.0,543.0 1034.0,545.8 1037.0,551.4 1039.0,559.7 1040.5,580.5 1043.0,583.3 1045.0,575.0 1047.0,572.2 1049.7,566.0 1052.0,568.0 1055.0,569.4 1059.0,574.3 1063.0,575.7 1065.0,575.7 1068.0,580.5 1070.0,582.2 1074.0,583.0 1082.0,586.1 1090.0,587.8 1100.0,588.6 1115.0,589.2 1197.6,589.3" fill="none" stroke="#5a9be0" stroke-width="2" stroke-linejoin="round"/>
<path d="M493.3 623.5H505.4" stroke="#5a9be0" stroke-width="2"/>
<path d="M493.3 634H506" stroke="#aaa" stroke-width="1.2" stroke-dasharray="2.5 2"/>
<g font-size="8.8"><text x="509.5" y="626.8" fill="#333">Power</text><text x="509.5" y="637" fill="#333">Setpoint</text>
<text x="742.4" y="626.8" fill="#c0c0c0">Irradiance</text><text x="976.3" y="626.8" fill="#c0c0c0" font-size="8.9">Expected power (ML optimized physical simulation)</text></g>
<path d="M726.6 623.5H739M960 623.5H971.6" stroke="#d8d8d8" stroke-width="1.5"/>
<rect x="554.8" y="406.8" width="204.5" height="64" rx="2" fill="#fff" fill-opacity="0.96" stroke="#d0d0d0" stroke-width="1"/>
<rect x="556" y="471" width="204" height="1.5" fill="#000" fill-opacity="0.06"/>
<g font-size="9.9"><text x="560.3" y="421.7" font-weight="bold" fill="#333" font-size="9.9" letter-spacing="0.4">13/06/2023 09:25</text>
<text x="560.3" y="434.9"><tspan fill="#6ea5de">Power:</tspan><tspan fill="#333"> 17,673.49 kW</tspan></text>
<text x="560.3" y="448.4"><tspan fill="#6ea5de">Target range:</tspan><tspan fill="#333"> 27,216.00 kW - 33,264.00 kW</tspan></text>
<text x="560.3" y="461.7"><tspan fill="#999">Setpoint:</tspan><tspan fill="#333"> 30.00 %</tspan></text></g>
<path d="M780.5 434.5 V447 L783.3 444.3 L785.3 448.8 L787 448 L785 443.6 L788.8 443.6 Z" fill="#fff" stroke="#222" stroke-width="0.8"/>
<g stroke="#111" stroke-width="1" fill="none"><path d="M808 564.5V575.5M802.5 570H813.5"/></g><path d="M808 564 L806.5 566 H809.5Z M808 576 L806.5 574 H809.5Z M802 570 L804 568.5 V571.5Z M814 570 L812 568.5 V571.5Z" fill="#111"/>
<path d="M809 570 V578 L811 576 L812.3 579 L813.3 578.5 L812 575.6 L814.7 575.6 Z" fill="#fff" stroke="#222" stroke-width="0.7"/>
</svg>
<div class="a btn" style="left:739px;top:364px;width:19px;height:15.5px;background:#f7f7f7;border-color:#ececec"></div>
<div class="a btn" style="left:876px;top:364px;width:19.5px;height:15.5px;background:#f7f7f7;border-color:#ececec"></div>
<svg class="a" style="left:735px;top:360px" width="170" height="24"><path d="M15.5 7.8 L11.8 11.9 L15.5 16" fill="none" stroke="#333" stroke-width="1.5"/><path d="M148.3 7.8 L152 11.9 L148.3 16" fill="none" stroke="#555" stroke-width="1.1"/>
<g fill="none" stroke="#555" stroke-width="0.9"><rect x="129.5" y="7.4" width="9" height="8.3" rx="0.6"/><path d="M129.5 9.4H138.5M134 13.5H137M131.5 6.3V8M136.5 6.3V8"/></g></svg>
<div class="a" style="left:760.8px;top:366px;font-size:8.9px;font-weight:bold;color:#4a4a4a;line-height:11px;margin-top:0.5px">05/10/2023 - 11/10/2023</div>
<div class="a" style="left:383.50px;top:384.5px;width:4.3px;height:5px;background:#b9b5ae"></div>
<div class="a" style="left:383.50px;top:382px;width:4.3px;height:2.5px;background:#e4e2de"></div>
<div class="a" style="left:387.75px;top:384.5px;width:4.3px;height:5px;background:#c2beb6"></div>
<div class="a" style="left:387.75px;top:382px;width:4.3px;height:2.5px;background:#dcd9d3"></div>
<div class="a" style="left:392.00px;top:384.5px;width:4.3px;height:5px;background:#b3b2b4"></div>
<div class="a" style="left:392.00px;top:382px;width:4.3px;height:2.5px;background:#d8d5d1"></div>
<div class="a" style="left:396.25px;top:384.5px;width:4.3px;height:5px;background:#a7a7b5"></div>
<div class="a" style="left:396.25px;top:382px;width:4.3px;height:2.5px;background:#e6e8ec"></div>
<div class="a" style="left:400.50px;top:384.5px;width:4.3px;height:5px;background:#c6c4bc"></div>
<div class="a" style="left:400.50px;top:382px;width:4.3px;height:2.5px;background:#f0efec"></div>
<div class="a" style="left:404.75px;top:384.5px;width:4.3px;height:5px;background:#aca9b1"></div>
<div class="a" style="left:404.75px;top:382px;width:4.3px;height:2.5px;background:#eeeeee"></div>
<div class="a" style="left:409.00px;top:384.5px;width:4.3px;height:5px;background:#abb1bf"></div>
<div class="a" style="left:409.00px;top:382px;width:4.3px;height:2.5px;background:#eeeeee"></div>
<div class="a" style="left:413.25px;top:384.5px;width:4.3px;height:5px;background:#b3a6a3"></div>
<div class="a" style="left:413.25px;top:382px;width:4.3px;height:2.5px;background:#eeeeee"></div>
<div class="a" style="left:417.50px;top:384.5px;width:4.3px;height:5px;background:#a5b0ab"></div>
<div class="a" style="left:417.50px;top:382px;width:4.3px;height:2.5px;background:#e9ecef"></div>
<div class="a" style="left:421.75px;top:384.5px;width:4.3px;height:5px;background:#b7aca5"></div>
<div class="a" style="left:421.75px;top:382px;width:4.3px;height:2.5px;background:#efe6de"></div>
<div class="a" style="left:426.00px;top:384.5px;width:4.3px;height:5px;background:#adb2ba"></div>
<div class="a" style="left:426.00px;top:382px;width:4.3px;height:2.5px;background:#e4eaf0"></div>
<div class="a" style="left:430.25px;top:384.5px;width:4.3px;height:5px;background:#b4aaa4"></div>
<div class="a" style="left:430.25px;top:382px;width:4.3px;height:2.5px;background:#f3f3f3"></div>
<div class="a" style="left:434.50px;top:384.5px;width:4.3px;height:5px;background:#ece9e2"></div>
<div class="a" style="left:434.50px;top:382px;width:4.3px;height:2.5px;background:#f7f7f7"></div>
<div class="a" style="left:438.75px;top:384.5px;width:4.3px;height:5px;background:#a2a9b9"></div>
<div class="a" style="left:438.75px;top:382px;width:4.3px;height:2.5px;background:#dcdfe6"></div>
<div class="a" style="left:443.00px;top:384.5px;width:4.3px;height:5px;background:#bcb6b9"></div>
<div class="a" style="left:443.00px;top:382px;width:4.3px;height:2.5px;background:#e2e0e3"></div>
<div class="a" style="left:383px;top:382px;width:1.3px;height:7px;background:#555;opacity:.6"></div>
<!-- /chart -->
<!-- panel tools -->
<svg class="a" style="left:0;top:0" width="1280" height="400">
 <use href="#ir" x="349" y="61.5"/><use href="#ix" x="365" y="61"/>
 <use href="#iw" x="961" y="61"/><use href="#ir" x="976" y="61.5"/><use href="#ix" x="992" y="61"/>
 <use href="#ir" x="1237" y="61.5"/><use href="#ix" x="1253" y="61"/>
 <use href="#iw" x="335" y="367"/><use href="#ir" x="349" y="367.5"/><use href="#ix" x="365" y="367"/>
 <use href="#iw" x="1222" y="367"/><use href="#ir" x="1237" y="367.5"/><use href="#ix" x="1253" y="367"/>
</svg>

<!-- annotations -->
<div class="ln" style="left:476px;top:16px;width:92px;height:2px"></div>
<div class="dot" style="left:471.8px;top:12.9px"></div>
<div class="ann" style="left:568px;top:4px;width:149px;height:41px;text-align:left;padding:11px 0 0 10px">Power control tab</div>

<div class="ln" style="left:107px;top:63px;width:186px;height:2px"></div>
<div class="ln" style="left:291.2px;top:63px;width:2px;height:160px"></div>
<div class="dot" style="left:103.8px;top:60px"></div>
<div class="ann" style="left:266px;top:222px;width:259px;height:48px;padding-top:5px">Overview of key power control data<br>in real time</div>

<div class="ln" style="left:452px;top:66.8px;width:177px;height:2px"></div>
<div class="ln" style="left:627.4px;top:66.8px;width:2px;height:109px"></div>
<div class="dot" style="left:448.8px;top:63.8px"></div>
<div class="ann" style="left:598px;top:175px;width:260px;height:47px;padding-top:15px">Overview of all curtailments</div>

<div class="ln" style="left:1150.8px;top:163px;width:2px;height:114px"></div>
<div class="dot" style="left:1148px;top:159px"></div>
<div class="ann" style="left:1073px;top:276px;width:165px;height:64px;padding-top:14px">Overview of your loss<br>calculations</div>

<div class="ln" style="left:95px;top:381px;width:164px;height:2px"></div>
<div class="ln" style="left:257.2px;top:381px;width:2px;height:43px"></div>
<div class="dot" style="left:91px;top:377.9px"></div>
<div class="ann" style="left:245px;top:423px;width:224px;height:48px;padding-top:5px">Real-time flow of electricity<br>throughout your system</div>

<div class="ln" style="left:927px;top:530px;width:32px;height:2px"></div>
<div class="dot" style="left:954.4px;top:526.8px"></div>
<div class="ann" style="left:756px;top:507px;width:171px;height:48px;padding-top:5px">Dotted line shows<br>curtailments</div>

</body></html>
